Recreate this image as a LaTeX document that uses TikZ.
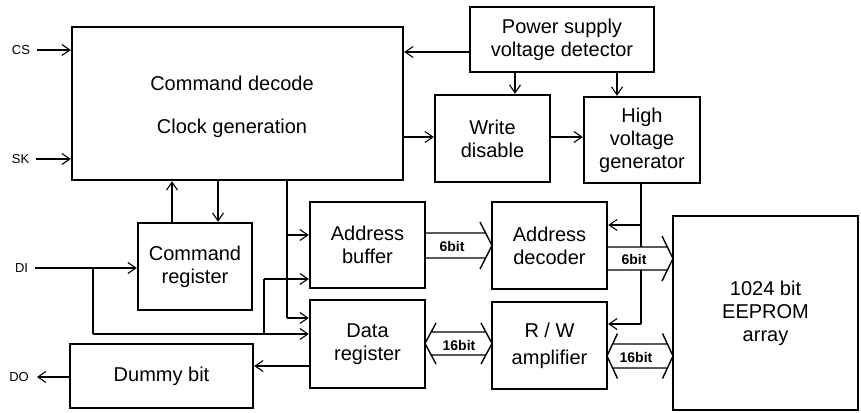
\documentclass[tikz,border=0pt]{standalone}
\usepackage{fontspec}
\setmainfont{Liberation Sans}
\usetikzlibrary{arrows.meta}
\pgfdeclarelayer{bg}
\pgfsetlayers{bg,main}
% one-way bus: #1 x start, #2 x tip, #3 y mid, #4 half body, #5 half head, #6 head length
\newcommand{\mybusR}[6]{%
  \fill[white] (#1,{#3-#4}) -- ({#2-#6*#4/#5},{#3-#4}) -- ({#2-#6},{#3-#5}) -- (#2,#3) -- ({#2-#6},{#3+#5}) -- ({#2-#6*#4/#5},{#3+#4}) -- (#1,{#3+#4}) -- cycle;
  \draw[busline] (#1,{#3-#4}) -- ({#2-#6*#4/#5},{#3-#4})
                 (#1,{#3+#4}) -- ({#2-#6*#4/#5},{#3+#4})
                 ({#2-#6},{#3-#5}) -- (#2,#3) -- ({#2-#6},{#3+#5});
}
% two-way bus
\newcommand{\mybusLR}[6]{%
  \fill[white] ({#1+#6*#4/#5},{#3-#4}) -- ({#2-#6*#4/#5},{#3-#4}) -- ({#2-#6},{#3-#5}) -- (#2,#3) -- ({#2-#6},{#3+#5}) -- ({#2-#6*#4/#5},{#3+#4}) -- ({#1+#6*#4/#5},{#3+#4}) -- ({#1+#6},{#3+#5}) -- (#1,#3) -- ({#1+#6},{#3-#5}) -- cycle;
  \draw[busline] ({#1+#6*#4/#5},{#3-#4}) -- ({#2-#6*#4/#5},{#3-#4})
                 ({#1+#6*#4/#5},{#3+#4}) -- ({#2-#6*#4/#5},{#3+#4})
                 ({#2-#6},{#3-#5}) -- (#2,#3) -- ({#2-#6},{#3+#5})
                 ({#1+#6},{#3-#5}) -- (#1,#3) -- ({#1+#6},{#3+#5});
}
\begin{document}
\begin{tikzpicture}[x=1pt,y=-1pt,
  box/.style={draw, line width=2.6pt, inner sep=0pt, outer sep=0pt, align=center,
              font=\fontsize{20}{23}\selectfont},
  txt/.style={inner sep=0pt, align=center, font=\fontsize{20}{23}\selectfont},
  lbl/.style={inner sep=0pt, outer sep=7pt, font=\fontsize{13}{15}\selectfont},
  conn/.style={line width=1.1pt},
  arr/.style={conn, shorten >=1.2pt, -{Straight Barb[length=8pt,width=11pt]}},
  busline/.style={line width=1.4pt},
  bustext/.style={inner sep=0pt, font=\bfseries\fontsize{14}{16}\selectfont}]
\useasboundingbox (0,0) rectangle (861,412);

% blocks
\node[box, minimum width=331pt, minimum height=153pt] (cd) at (237.5,103.5) {};
\node[txt] (cdtext) at (232,106.5) {Command decode\\[20pt]Clock generation};
\node[box, minimum width=184pt, minimum height=65pt] (ps) at (562,39.5) {Power supply\\voltage detector};
\node[box, minimum width=115pt, minimum height=87pt] (wd) at (492.5,138.5) {Write\\disable};
\node[box, minimum width=116pt, minimum height=86pt] (hv) at (642,140) {High\\voltage\\generator};
\node[box, minimum width=114pt, minimum height=87pt] (cr) at (195,266.5) {Command\\register};
\node[box, minimum width=115pt, minimum height=86pt] (ab) at (367.5,245) {Address\\buffer};
\node[box, minimum width=115pt, minimum height=87pt] (adec) at (549.5,245.5) {Address\\decoder};
\node[box, minimum width=115pt, minimum height=88pt] (dr) at (367.5,344) {Data\\register};
\node[box, minimum width=115pt, minimum height=87pt] (rw) at (549.5,345.5) {R / W\\[4pt]amplifier};
\node[box, minimum width=183pt, minimum height=64pt] (db) at (161.5,376) {Dummy bit};
\node[box, minimum width=185pt, minimum height=194pt] (ee) at (765.5,313) {1024 bit\\EEPROM\\array};

% signal labels
\node[lbl] (cs) at (21,50) {CS};
\node[lbl] (sk) at (20.5,159) {SK};
\node[lbl] (di) at (21.5,268) {DI};
\node[lbl] (do) at (19,377) {DO};

\begin{pgfonlayer}{bg}
\draw[arr] (cs.east) -- (cs.east -| cd.west);
\draw[arr] (sk.east) -- (sk.east -| cd.west);
\draw[arr] (ps.west |- 0,52) -- (cd.east |- 0,52);
\draw[arr] (515,0 |- ps.south) -- (515,0 |- wd.north);
\draw[arr] (617,0 |- ps.south) -- (617,0 |- hv.north);
\draw[arr] (cd.east |- 0,137) -- (wd.west |- 0,137);
\draw[arr] (wd.east |- 0,137) -- (hv.west |- 0,137);
\draw[conn] (641,0 |- hv.south) -- (641,324);
\draw[arr] (641,225) -- (adec.east |- 0,225);
\draw[arr] (641,324) -- (rw.east |- 0,324);
\draw[arr] (172,0 |- cr.north) -- (172,0 |- cd.south);
\draw[arr] (218,0 |- cd.south) -- (218,0 |- cr.north);
\draw[arr] (di.east) -- (di.east -| cr.west);
\draw[conn] (di.east -| 93,0) -- (93,334);
\draw[arr] (93,334) -- (dr.west |- 0,334);
\draw[conn] (264,334) -- (264,279);
\draw[arr] (264,279) -- (ab.west |- 0,279);
\draw[conn] (287,0 |- cd.south) -- (287,318);
\draw[arr] (287,318) -- (dr.west |- 0,318);
\draw[arr] (287,235) -- (ab.west |- 0,235);
\draw[arr] (dr.west |- 0,366) -- (db.east |- 0,366);
\draw[arr] (db.west |- do.east) -- (do.east);
% buses
\mybusR{425}{492}{245.5}{12.5}{23.5}{12}
\mybusR{607}{673}{258.5}{11.5}{22.5}{11}
\mybusLR{425}{492}{343.5}{11.5}{20.5}{11}
\mybusLR{607}{673}{356}{12}{22.5}{10.5}
\end{pgfonlayer}

\node[bustext] (b1) at (452,246) {6bit};
\node[bustext] (b2) at (634,259) {6bit};
\node[bustext] (b3) at (459,345) {16bit};
\node[bustext] (b4) at (636,357) {16bit};
\end{tikzpicture}
\end{document}
